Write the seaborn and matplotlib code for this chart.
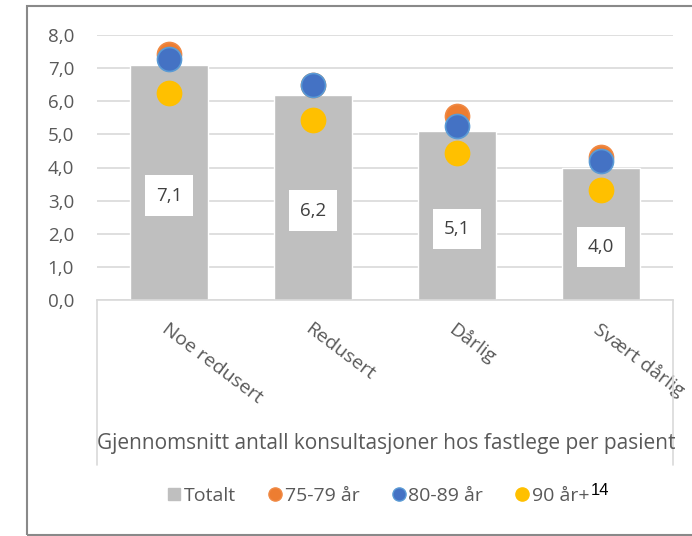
import pandas as pd
import numpy as np
import matplotlib.pyplot as plt
import seaborn as sns
from matplotlib.lines import Line2D
from matplotlib.patches import Rectangle

# data
kategorier = ["Noe redusert", "Redusert", "Dårlig", "Svært dårlig"]
totalt = [7.1, 6.2, 5.1, 4.0]
alder_75_79 = [7.42, 6.50, 5.54, 4.33]
alder_80_89 = [7.28, 6.50, 5.26, 4.19]
alder_90 = [6.25, 5.44, 4.45, 3.31]
serie_navn = ["75-79 år", "80-89 år", "90 år+"]

sns.set_theme(style="white")
plt.rcParams["font.family"] = ["Open Sans", "DejaVu Sans"]

tekst = "#595959"
grid = "#D9D9D9"
farger = {"Totalt": "#BFBFBF", "75-79 år": "#ED7D31", "80-89 år": "#4472C4", "90 år+": "#FFC000"}
kanter = {"75-79 år": "#F08A45", "80-89 år": "#5B9BD5", "90 år+": "#FFC000"}

fig = plt.figure(figsize=(6.92, 5.36), dpi=100)
ax = fig.add_axes([97 / 692, 1 - 300 / 536, 576 / 692, 265 / 536])

df_bar = pd.DataFrame({"kategori": kategorier, "verdi": totalt})
sns.barplot(data=df_bar, x="kategori", y="verdi", color=farger["Totalt"],
            saturation=1, width=0.54, ax=ax, zorder=2)

for navn, verdier in zip(serie_navn, [alder_75_79, alder_80_89, alder_90]):
    d = pd.DataFrame({"kategori": kategorier, "verdi": verdier})
    sns.scatterplot(data=d, x="kategori", y="verdi", color=farger[navn],
                    edgecolor=kanter[navn], linewidth=1.2, s=300, ax=ax, zorder=3)

# value labels in white boxes (sitting a bit below the bar middle, like the original)
for i, v in enumerate(totalt):
    ax.text(i, v / 2 - 0.4, f"{v:.1f}".replace(".", ","), ha="center", va="center",
            fontsize=13.5, color="#404040", zorder=4,
            bbox=dict(boxstyle="square,pad=0.6", fc="white", ec="none"))

ax.set_xlim(-0.5, 3.5)
ax.set_ylim(0, 8)
ax.set_yticks(np.arange(0, 9, 1))
ax.set_yticklabels([f"{t:.1f}".replace(".", ",") for t in np.arange(0, 9, 1)])
ax.yaxis.grid(True, color=grid, lw=1.2, zorder=0)
ax.set_axisbelow(True)
ax.tick_params(axis="y", length=0, pad=16.5, labelsize=13.5, labelcolor=tekst)
ax.tick_params(axis="x", length=0, pad=14, labelsize=14, labelcolor=tekst)
for lab in ax.get_xticklabels():
    lab.set_rotation(-37)
    lab.set_ha("left")
    lab.set_va("top")
    lab.set_rotation_mode("anchor")
    lab.set_clip_on(False)
ax.set_xlabel("")
ax.set_ylabel("")
for s in ["top", "right", "left"]:
    ax.spines[s].set_visible(False)
ax.spines["bottom"].set_color(grid)
ax.spines["bottom"].set_linewidth(1.2)

# box lines below the category axis
tr = ax.get_xaxis_transform()
for xv in [-0.5, 3.5]:
    ax.plot([xv, xv], [0, -165 / 265], transform=tr, color=grid, lw=1.2, clip_on=False)

fig.text(386 / 692, 1 - 443 / 536,
         "Gjennomsnitt antall konsultasjoner hos fastlege per pasient",
         ha="center", va="center", fontsize=15, color=tekst)

handles = [Line2D([], [], marker="s", ls="", color=farger["Totalt"], markersize=9)]
for navn in serie_navn:
    handles.append(Line2D([], [], marker="o", ls="", markerfacecolor=farger[navn],
                          markeredgecolor=kanter[navn], markersize=9.5))
labels = ["Totalt", "75-79 år", "80-89 år", "90 år+"]
leg = fig.legend(handles, labels, loc="center", bbox_to_anchor=(378 / 692, 1 - 496 / 536),
                 ncol=4, frameon=False, fontsize=14, handletextpad=0.1,
                 columnspacing=1.6, handlelength=0.8)
for t in leg.get_texts():
    t.set_color(tekst)

# footnote number after the last legend entry
fig.canvas.draw()
bb = leg.get_texts()[-1].get_window_extent().transformed(fig.transFigure.inverted())
fig.text(bb.x1 + 0.002, bb.y1 + 0.007, "14", ha="left", va="top",
         fontsize=12, color="black", family="Liberation Sans")

# outer chart frame
fig.patches.append(Rectangle((27 / 692, 1 - 535 / 536), 700 / 692, 529 / 536,
                             transform=fig.transFigure, fill=False,
                             ec="#898989", lw=1.5))

fig.savefig("out.png", dpi=100)
